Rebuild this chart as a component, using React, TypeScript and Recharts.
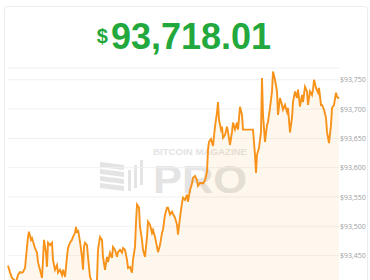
import { AreaChart, Area, XAxis, YAxis, CartesianGrid } from "recharts"

// minutes from the start of the window, and BTC price at that minute
const minutes = [
  0, 2, 4, 6, 8, 10, 12, 14, 15, 17, 19, 20, 21, 23, 24, 25, 27, 29, 30, 32,
  34, 35, 36, 38, 39, 40, 42, 44, 45, 47, 49, 50, 52, 54, 55, 57, 59, 60, 62, 64,
  65, 67, 68, 69, 70, 72, 74, 75, 76, 77, 79, 80, 82, 84, 87, 89, 90, 92, 94, 95,
  97, 99, 100, 102, 104, 105, 107, 109, 110, 112, 114, 115, 117, 119, 120, 122, 124, 125, 127, 128,
  129, 131, 132, 134, 135, 137, 139, 140, 142, 144, 145, 147, 149, 150, 152, 154, 155, 157, 159, 160,
  162, 164, 165, 167, 169, 170, 172, 174, 175, 177, 179, 180, 182, 184, 185, 187, 189, 190, 192, 194,
  195, 197, 199, 200, 201, 203, 205, 207, 209, 210, 211, 213, 214, 215, 217, 219, 220, 222, 224, 225,
  227, 229, 230, 232, 234, 235, 239, 245, 247, 248, 249, 251, 253, 254, 255, 257, 259, 260, 262, 264,
  265, 267, 269, 270, 272, 274, 275, 277, 279, 280, 282, 284, 285, 287, 289, 290, 292, 294, 295, 297,
  299, 300, 302, 304, 305, 306, 308, 310, 311, 313, 314, 316, 318, 319, 321, 323, 324, 326, 328, 329,
  331,
]

const prices = [
  93433, 93422, 93412, 93409, 93405, 93417, 93422, 93421, 93422, 93429, 93465, 93482, 93491, 93477, 93480, 93474, 93463, 93455, 93439, 93426,
  93412, 93443, 93477, 93455, 93431, 93472, 93468, 93472, 93443, 93426, 93434, 93421, 93426, 93417, 93426, 93414, 93448, 93463, 93472, 93477,
  93482, 93489, 93499, 93489, 93494, 93474, 93448, 93426, 93465, 93472, 93468, 93448, 93414, 93405, 93405, 93409, 93460, 93482, 93477, 93448,
  93426, 93448, 93439, 93455, 93446, 93465, 93460, 93448, 93456, 93460, 93455, 93463, 93460, 93443, 93429, 93431, 93421, 93443, 93465, 93506,
  93537, 93532, 93499, 93477, 93460, 93448, 93482, 93508, 93503, 93489, 93494, 93482, 93465, 93456, 93468, 93489, 93494, 93520, 93532, 93532,
  93520, 93525, 93521, 93515, 93503, 93486, 93515, 93540, 93549, 93545, 93554, 93542, 93562, 93573, 93583, 93586, 93579, 93569, 93574, 93574,
  93573, 93578, 93593, 93631, 93644, 93649, 93637, 93670, 93694, 93712, 93682, 93665, 93670, 93651, 93656, 93670, 93661, 93639, 93661, 93677,
  93665, 93677, 93665, 93704, 93690, 93665, 93665, 93665, 93622, 93591, 93622, 93634, 93661, 93753, 93690, 93644, 93673, 93678, 93702, 93730,
  93764, 93750, 93730, 93690, 93719, 93707, 93699, 93707, 93695, 93702, 93660, 93685, 93712, 93730, 93719, 93733, 93704, 93724, 93712, 93738,
  93730, 93707, 93730, 93724, 93733, 93750, 93736, 93728, 93736, 93707, 93707, 93699, 93685, 93661, 93642, 93673, 93702, 93707, 93728, 93721,
  93718,
]

const priceTicks = [93450, 93500, 93550, 93600, 93650, 93700, 93750]

const data = minutes.map((t, i) => ({ t, price: prices[i] }))

const ORANGE = "#F7931A"
const GREEN = "#22a83c"
const MARK = "#e4e4e4"

function Watermark() {
  return (
    <svg width={370} height={280} style={{ position: "absolute", left: 0, top: 0 }}>
      {[0, 1, 2, 3].map((i) => (
        <polygon
          key={i}
          points={`100,${162 + i * 7} 124,${165 + i * 7} 124,${170 + i * 7} 100,${167 + i * 7}`}
          fill={MARK}
        />
      ))}
      <rect x={128} y={170} width={3} height={21} fill={MARK} />
      <rect x={134} y={165} width={3} height={23} fill={MARK} />
      <rect x={140} y={160} width={3} height={25} fill={MARK} />
      <text
        x={153}
        y={155}
        fontFamily="Liberation Sans, Arial, sans-serif"
        fontWeight="bold"
        fontSize={9}
        fill={MARK}
        textLength={94}
        lengthAdjust="spacingAndGlyphs"
      >
        BITCOIN MAGAZINE
      </text>
      <text
        x={153}
        y={193}
        fontFamily="Liberation Sans, Arial, sans-serif"
        fontWeight="bold"
        fontSize={38}
        fill={MARK}
        textLength={94}
        lengthAdjust="spacingAndGlyphs"
      >
        PRO
      </text>
    </svg>
  )
}

export default function App() {
  return (
    <div
      style={{
        position: "fixed",
        left: 0,
        top: 0,
        width: 370,
        height: 280,
        overflow: "hidden",
        background: "#fff",
      }}
    >
      <div
        style={{
          position: "absolute",
          left: 4,
          top: 6,
          width: 362,
          height: 300,
          border: "1px solid #ededed",
          borderRadius: 3,
        }}
      />
      <svg width={370} height={60} style={{ position: "absolute", left: 0, top: 0 }}>
        <text
          x={184}
          y={49}
          textAnchor="middle"
          fontFamily="Liberation Sans, Arial, sans-serif"
          fontWeight="bold"
          fill={GREEN}
        >
          <tspan fontSize={20} dy={-6}>$</tspan>
          <tspan fontSize={36} dx={3} dy={6}>93,718.01</tspan>
        </text>
      </svg>
      <Watermark />
      <div style={{ position: "absolute", left: 0, top: 0 }}>
        <AreaChart width={370} height={290} data={data} margin={{ top: 68, right: 0, bottom: 5, left: 8 }}>
          <CartesianGrid vertical={false} stroke="#f1f1f1" />
          <XAxis type="number" dataKey="t" domain={[0, 331]} hide />
          <YAxis
            orientation="right"
            domain={[93400, 93770]}
            ticks={priceTicks}
            allowDataOverflow
            width={31}
            axisLine={false}
            tickLine={false}
            tickSize={0}
            tickMargin={1}
            tick={{ fill: "#9d9d9d", fontSize: 7, fontFamily: "Open Sans, sans-serif" }}
            tickFormatter={(v: number) => "$" + v.toLocaleString("en-US")}
          />
          <Area
            type="linear"
            dataKey="price"
            stroke={ORANGE}
            strokeWidth={1.9}
            fill={ORANGE}
            fillOpacity={0.08}
            isAnimationActive={false}
            dot={false}
            activeDot={false}
          />
        </AreaChart>
      </div>
    </div>
  )
}
